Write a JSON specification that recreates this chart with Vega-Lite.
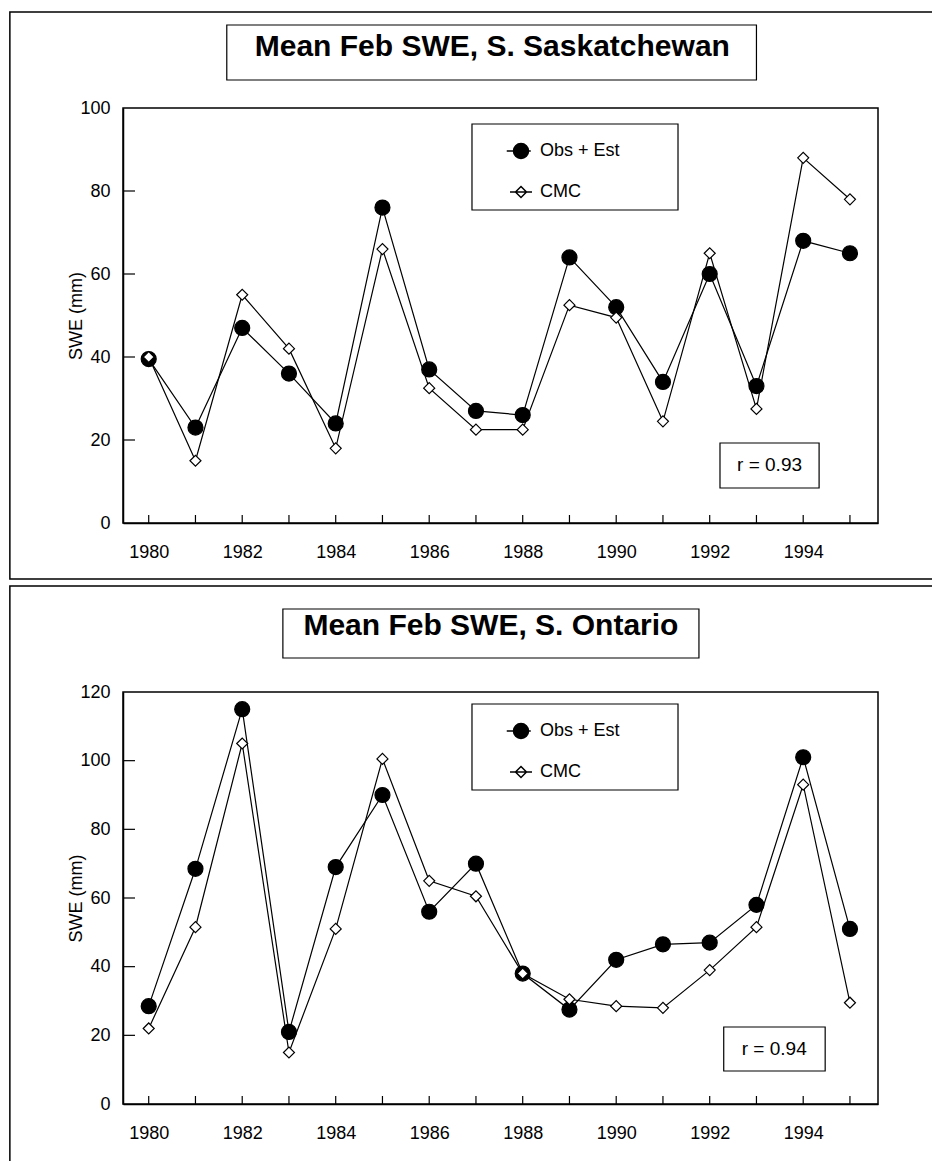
{
  "$schema": "https://vega.github.io/schema/vega-lite/v6.json",
  "background": "white",
  "padding": {"left": 8, "top": 10, "right": 0, "bottom": 0},
  "spacing": 3,
  "resolve": {
    "scale": {"fill": "independent", "size": "independent", "shape": "independent"},
    "legend": {"fill": "independent", "size": "independent", "shape": "independent"}
  },
  "datasets": {
    "sask": [
      {"year": 1980, "series": "Obs + Est", "swe": 39.5}, {"year": 1981, "series": "Obs + Est", "swe": 23}, {"year": 1982, "series": "Obs + Est", "swe": 47}, {"year": 1983, "series": "Obs + Est", "swe": 36}, {"year": 1984, "series": "Obs + Est", "swe": 24}, {"year": 1985, "series": "Obs + Est", "swe": 76}, {"year": 1986, "series": "Obs + Est", "swe": 37}, {"year": 1987, "series": "Obs + Est", "swe": 27}, {"year": 1988, "series": "Obs + Est", "swe": 26}, {"year": 1989, "series": "Obs + Est", "swe": 64}, {"year": 1990, "series": "Obs + Est", "swe": 52}, {"year": 1991, "series": "Obs + Est", "swe": 34}, {"year": 1992, "series": "Obs + Est", "swe": 60}, {"year": 1993, "series": "Obs + Est", "swe": 33}, {"year": 1994, "series": "Obs + Est", "swe": 68}, {"year": 1995, "series": "Obs + Est", "swe": 65},
      {"year": 1980, "series": "CMC", "swe": 40}, {"year": 1981, "series": "CMC", "swe": 15}, {"year": 1982, "series": "CMC", "swe": 55}, {"year": 1983, "series": "CMC", "swe": 42}, {"year": 1984, "series": "CMC", "swe": 18}, {"year": 1985, "series": "CMC", "swe": 66}, {"year": 1986, "series": "CMC", "swe": 32.5}, {"year": 1987, "series": "CMC", "swe": 22.5}, {"year": 1988, "series": "CMC", "swe": 22.5}, {"year": 1989, "series": "CMC", "swe": 52.5}, {"year": 1990, "series": "CMC", "swe": 49.5}, {"year": 1991, "series": "CMC", "swe": 24.5}, {"year": 1992, "series": "CMC", "swe": 65}, {"year": 1993, "series": "CMC", "swe": 27.5}, {"year": 1994, "series": "CMC", "swe": 88}, {"year": 1995, "series": "CMC", "swe": 78}
    ],
    "ont": [
      {"year": 1980, "series": "Obs + Est", "swe": 28.5}, {"year": 1981, "series": "Obs + Est", "swe": 68.5}, {"year": 1982, "series": "Obs + Est", "swe": 115}, {"year": 1983, "series": "Obs + Est", "swe": 21}, {"year": 1984, "series": "Obs + Est", "swe": 69}, {"year": 1985, "series": "Obs + Est", "swe": 90}, {"year": 1986, "series": "Obs + Est", "swe": 56}, {"year": 1987, "series": "Obs + Est", "swe": 70}, {"year": 1988, "series": "Obs + Est", "swe": 38}, {"year": 1989, "series": "Obs + Est", "swe": 27.5}, {"year": 1990, "series": "Obs + Est", "swe": 42}, {"year": 1991, "series": "Obs + Est", "swe": 46.5}, {"year": 1992, "series": "Obs + Est", "swe": 47}, {"year": 1993, "series": "Obs + Est", "swe": 58}, {"year": 1994, "series": "Obs + Est", "swe": 101}, {"year": 1995, "series": "Obs + Est", "swe": 51},
      {"year": 1980, "series": "CMC", "swe": 22}, {"year": 1981, "series": "CMC", "swe": 51.5}, {"year": 1982, "series": "CMC", "swe": 105}, {"year": 1983, "series": "CMC", "swe": 15}, {"year": 1984, "series": "CMC", "swe": 51}, {"year": 1985, "series": "CMC", "swe": 100.5}, {"year": 1986, "series": "CMC", "swe": 65}, {"year": 1987, "series": "CMC", "swe": 60.5}, {"year": 1988, "series": "CMC", "swe": 38}, {"year": 1989, "series": "CMC", "swe": 30.5}, {"year": 1990, "series": "CMC", "swe": 28.5}, {"year": 1991, "series": "CMC", "swe": 28}, {"year": 1992, "series": "CMC", "swe": 39}, {"year": 1993, "series": "CMC", "swe": 51.5}, {"year": 1994, "series": "CMC", "swe": 93}, {"year": 1995, "series": "CMC", "swe": 29.5}
    ],
    "yearTicks": [{"year": 1980}, {"year": 1981}, {"year": 1982}, {"year": 1983}, {"year": 1984}, {"year": 1985}, {"year": 1986}, {"year": 1987}, {"year": 1988}, {"year": 1989}, {"year": 1990}, {"year": 1991}, {"year": 1992}, {"year": 1993}, {"year": 1994}, {"year": 1995}],
    "sweTicksTop": [{"v": 20}, {"v": 40}, {"v": 60}, {"v": 80}],
    "sweTicksBottom": [{"v": 20}, {"v": 40}, {"v": 60}, {"v": 80}, {"v": 100}]
  },
  "config": {
    "font": "Liberation Sans",
    "view": {"stroke": "black", "strokeWidth": 1.5},
    "axis": {
      "domainColor": "black", "domainWidth": 1.5, "ticks": false,
      "labelColor": "black", "labelFontSize": 18, "labelFont": "Liberation Sans",
      "titleColor": "black", "titleFont": "Liberation Sans", "titleFontSize": 18, "titleFontWeight": "normal",
      "grid": false, "labelOverlap": false, "labelFlush": false
    },
    "legend": {
      "labelFontSize": 18, "labelFont": "Liberation Sans", "labelColor": "black",
      "rowPadding": 21, "padding": 0, "labelOffset": 10
    }
  },
  "vconcat": [
    {
      "width": 755, "height": 415,
      "layer": [
        {
          "data": {"values": [{"k": 1}]},
          "mark": {"type": "rect", "fill": null, "stroke": "black", "strokeWidth": 1.5, "clip": false},
          "encoding": {
            "x": {"datum": 1977.03, "type": "quantitative"}, "x2": {"datum": 1997.5},
            "y": {"datum": 123.13, "type": "quantitative"}, "y2": {"datum": -13.49}
          }
        },
        {
          "data": {"values": [{"k": 1}]},
          "mark": {"type": "rect", "fill": null, "stroke": "black", "strokeWidth": 1.2, "clip": false},
          "encoding": {
            "x": {"datum": 1981.67, "type": "quantitative"}, "x2": {"datum": 1993.0},
            "y": {"datum": 120.0, "type": "quantitative"}, "y2": {"datum": 106.75}
          }
        },
        {
          "data": {"values": [{"label": "Mean Feb SWE, S. Saskatchewan"}]},
          "mark": {"type": "text", "font": "Liberation Sans", "fontWeight": "bold", "fontSize": 30, "align": "center", "baseline": "alphabetic", "color": "black", "clip": false},
          "encoding": {
            "x": {"datum": 1987.35, "type": "quantitative"},
            "y": {"datum": 112.5, "type": "quantitative"},
            "text": {"field": "label"}
          }
        },
        {
          "data": {"values": [{"k": 1}]},
          "mark": {"type": "rect", "fill": null, "stroke": "black", "strokeWidth": 1.2, "clip": false},
          "encoding": {
            "x": {"datum": 1986.915, "type": "quantitative"}, "x2": {"datum": 1991.322},
            "y": {"datum": 96.14, "type": "quantitative"}, "y2": {"datum": 75.42}
          }
        },
        {
          "data": {"values": [{"k": 1}]},
          "mark": {"type": "rect", "fill": null, "stroke": "black", "strokeWidth": 1.2, "clip": false},
          "encoding": {
            "x": {"datum": 1992.22, "type": "quantitative"}, "x2": {"datum": 1994.34},
            "y": {"datum": 19.28, "type": "quantitative"}, "y2": {"datum": 8.43}
          }
        },
        {
          "data": {"values": [{"label": "r = 0.93"}]},
          "mark": {"type": "text", "fontSize": 19, "align": "center", "baseline": "middle", "color": "black", "clip": false},
          "encoding": {
            "x": {"datum": 1993.28, "type": "quantitative"},
            "y": {"datum": 13.86, "type": "quantitative"},
            "text": {"field": "label"}
          }
        },
        {
          "data": {"name": "yearTicks"},
          "mark": {"type": "rule", "color": "black", "strokeWidth": 1.2},
          "encoding": {
            "x": {"field": "year", "type": "quantitative"},
            "y": {"datum": 0, "type": "quantitative"}, "y2": {"datum": 1.93}
          }
        },
        {
          "data": {"name": "sweTicksTop"},
          "mark": {"type": "rule", "color": "black", "strokeWidth": 1.2},
          "encoding": {
            "x": {"datum": 1979.45, "type": "quantitative"}, "x2": {"datum": 1979.707},
            "y": {"field": "v", "type": "quantitative"}
          }
        },
        {
          "data": {"name": "sask"},
          "mark": {"type": "line", "color": "black", "strokeWidth": 1.2, "clip": false},
          "encoding": {
            "x": {"field": "year", "type": "quantitative", "scale": {"domain": [1979.45, 1995.6], "nice": false, "zero": false},
              "axis": {"title": null, "values": [1980,1982,1984,1986,1988,1990,1992,1994], "format": "d", "labelPadding": 20}},
            "y": {"field": "swe", "type": "quantitative", "scale": {"domain": [0, 100], "nice": false},
              "axis": {"title": "SWE (mm)", "values": [0,20,40,60,80,100], "labelPadding": 13, "titlePadding": -6}},
            "detail": {"field": "series"}
          }
        },
        {
          "data": {"name": "sask"},
          "transform": [{"filter": "datum.series === 'Obs + Est'"}],
          "mark": {"type": "point", "shape": "circle", "filled": true, "stroke": "black", "strokeWidth": 1.2, "opacity": 1, "clip": false},
          "encoding": {
            "x": {"field": "year", "type": "quantitative"},
            "y": {"field": "swe", "type": "quantitative"},
            "fill": {"field": "series", "type": "nominal", "scale": {"domain": ["Obs + Est", "CMC"], "range": ["black", "white"]},
              "legend": {"orient": "none", "legendX": 389, "legendY": 34, "title": null,
                "encode": {"symbols": {"update": {"stroke": {"value": "black"}, "strokeWidth": {"value": 1.2}}}, "labels": {"update": {"dy": {"value": -5}}}}}},
            "size": {"field": "series", "type": "nominal", "scale": {"domain": ["Obs + Est", "CMC"], "range": [225, 121]},
              "legend": {"orient": "none", "legendX": 389, "legendY": 34, "title": null,
                "encode": {"symbols": {"update": {"stroke": {"value": "black"}, "strokeWidth": {"value": 1.2}}}, "labels": {"update": {"dy": {"value": -5}}}}}}
          }
        },
        {
          "data": {"name": "sask"},
          "transform": [{"filter": "datum.series === 'CMC'"}],
          "mark": {"type": "point", "shape": "diamond", "filled": true, "stroke": "black", "strokeWidth": 1.2, "opacity": 1, "clip": false},
          "encoding": {
            "x": {"field": "year", "type": "quantitative"},
            "y": {"field": "swe", "type": "quantitative"},
            "fill": {"field": "series", "type": "nominal"},
            "size": {"field": "series", "type": "nominal"}
          }
        },
        {
          "data": {"name": "sask"},
          "transform": [{"filter": "false"}],
          "mark": {"type": "point", "filled": true, "stroke": "black", "strokeWidth": 1.2, "opacity": 1, "clip": false},
          "encoding": {
            "x": {"field": "year", "type": "quantitative"},
            "y": {"field": "swe", "type": "quantitative"},
            "fill": {"field": "series", "type": "nominal"},
            "size": {"field": "series", "type": "nominal"},
            "shape": {"field": "series", "type": "nominal",
              "scale": {"domain": ["Obs + Est", "CMC"], "range": ["M-1,0A1,1,0,1,1,1,0A1,1,0,1,1,-1,0Z M-1.9,0L-1,0 M1,0L1.3,0", "M0,-1L1,0L0,1L-1,0Z M-2,0L2,0"]},
              "legend": {"orient": "none", "legendX": 389, "legendY": 34, "title": null,
                "encode": {"symbols": {"update": {"stroke": {"value": "black"}, "strokeWidth": {"value": 1.2}}}, "labels": {"update": {"dy": {"value": -5}}}}}}
          }
        }
      ]
    },
    {
      "width": 755, "height": 412,
      "layer": [
        {
          "data": {"values": [{"k": 1}]},
          "mark": {"type": "rect", "fill": null, "stroke": "black", "strokeWidth": 1.5, "clip": false},
          "encoding": {
            "x": {"datum": 1977.03, "type": "quantitative"}, "x2": {"datum": 1997.5},
            "y": {"datum": 150.87, "type": "quantitative"}, "y2": {"datum": -20.7}
          }
        },
        {
          "data": {"values": [{"k": 1}]},
          "mark": {"type": "rect", "fill": null, "stroke": "black", "strokeWidth": 1.2, "clip": false},
          "encoding": {
            "x": {"datum": 1982.87, "type": "quantitative"}, "x2": {"datum": 1991.77},
            "y": {"datum": 144.17, "type": "quantitative"}, "y2": {"datum": 129.9}
          }
        },
        {
          "data": {"values": [{"label": "Mean Feb SWE, S. Ontario"}]},
          "mark": {"type": "text", "font": "Liberation Sans", "fontWeight": "bold", "fontSize": 30, "align": "center", "baseline": "alphabetic", "color": "black", "clip": false},
          "encoding": {
            "x": {"datum": 1987.32, "type": "quantitative"},
            "y": {"datum": 136.6, "type": "quantitative"},
            "text": {"field": "label"}
          }
        },
        {
          "data": {"values": [{"k": 1}]},
          "mark": {"type": "rect", "fill": null, "stroke": "black", "strokeWidth": 1.2, "clip": false},
          "encoding": {
            "x": {"datum": 1986.915, "type": "quantitative"}, "x2": {"datum": 1991.322},
            "y": {"datum": 116.5, "type": "quantitative"}, "y2": {"datum": 91.46}
          }
        },
        {
          "data": {"values": [{"k": 1}]},
          "mark": {"type": "rect", "fill": null, "stroke": "black", "strokeWidth": 1.2, "clip": false},
          "encoding": {
            "x": {"datum": 1992.30, "type": "quantitative"}, "x2": {"datum": 1994.47},
            "y": {"datum": 22.43, "type": "quantitative"}, "y2": {"datum": 9.61}
          }
        },
        {
          "data": {"values": [{"label": "r = 0.94"}]},
          "mark": {"type": "text", "fontSize": 19, "align": "center", "baseline": "middle", "color": "black", "clip": false},
          "encoding": {
            "x": {"datum": 1993.38, "type": "quantitative"},
            "y": {"datum": 16.02, "type": "quantitative"},
            "text": {"field": "label"}
          }
        },
        {
          "data": {"name": "yearTicks"},
          "mark": {"type": "rule", "color": "black", "strokeWidth": 1.2},
          "encoding": {
            "x": {"field": "year", "type": "quantitative"},
            "y": {"datum": 0, "type": "quantitative"}, "y2": {"datum": 2.33}
          }
        },
        {
          "data": {"name": "sweTicksBottom"},
          "mark": {"type": "rule", "color": "black", "strokeWidth": 1.2},
          "encoding": {
            "x": {"datum": 1979.45, "type": "quantitative"}, "x2": {"datum": 1979.707},
            "y": {"field": "v", "type": "quantitative"}
          }
        },
        {
          "data": {"name": "ont"},
          "mark": {"type": "line", "color": "black", "strokeWidth": 1.2, "clip": false},
          "encoding": {
            "x": {"field": "year", "type": "quantitative", "scale": {"domain": [1979.45, 1995.6], "nice": false, "zero": false},
              "axis": {"title": null, "values": [1980,1982,1984,1986,1988,1990,1992,1994], "format": "d", "labelPadding": 20}},
            "y": {"field": "swe", "type": "quantitative", "scale": {"domain": [0, 120], "nice": false},
              "axis": {"title": "SWE (mm)", "values": [0,20,40,60,80,100,120], "labelPadding": 13, "titlePadding": -6}},
            "detail": {"field": "series"}
          }
        },
        {
          "data": {"name": "ont"},
          "transform": [{"filter": "datum.series === 'Obs + Est'"}],
          "mark": {"type": "point", "shape": "circle", "filled": true, "stroke": "black", "strokeWidth": 1.2, "opacity": 1, "clip": false},
          "encoding": {
            "x": {"field": "year", "type": "quantitative"},
            "y": {"field": "swe", "type": "quantitative"},
            "fill": {"field": "series", "type": "nominal", "scale": {"domain": ["Obs + Est", "CMC"], "range": ["black", "white"]},
              "legend": {"orient": "none", "legendX": 389, "legendY": 30, "title": null,
                "encode": {"symbols": {"update": {"stroke": {"value": "black"}, "strokeWidth": {"value": 1.2}}}, "labels": {"update": {"dy": {"value": -5}}}}}},
            "size": {"field": "series", "type": "nominal", "scale": {"domain": ["Obs + Est", "CMC"], "range": [225, 121]},
              "legend": {"orient": "none", "legendX": 389, "legendY": 30, "title": null,
                "encode": {"symbols": {"update": {"stroke": {"value": "black"}, "strokeWidth": {"value": 1.2}}}, "labels": {"update": {"dy": {"value": -5}}}}}}
          }
        },
        {
          "data": {"name": "ont"},
          "transform": [{"filter": "datum.series === 'CMC'"}],
          "mark": {"type": "point", "shape": "diamond", "filled": true, "stroke": "black", "strokeWidth": 1.2, "opacity": 1, "clip": false},
          "encoding": {
            "x": {"field": "year", "type": "quantitative"},
            "y": {"field": "swe", "type": "quantitative"},
            "fill": {"field": "series", "type": "nominal"},
            "size": {"field": "series", "type": "nominal"}
          }
        },
        {
          "data": {"name": "ont"},
          "transform": [{"filter": "false"}],
          "mark": {"type": "point", "filled": true, "stroke": "black", "strokeWidth": 1.2, "opacity": 1, "clip": false},
          "encoding": {
            "x": {"field": "year", "type": "quantitative"},
            "y": {"field": "swe", "type": "quantitative"},
            "fill": {"field": "series", "type": "nominal"},
            "size": {"field": "series", "type": "nominal"},
            "shape": {"field": "series", "type": "nominal",
              "scale": {"domain": ["Obs + Est", "CMC"], "range": ["M-1,0A1,1,0,1,1,1,0A1,1,0,1,1,-1,0Z M-1.9,0L-1,0 M1,0L1.3,0", "M0,-1L1,0L0,1L-1,0Z M-2,0L2,0"]},
              "legend": {"orient": "none", "legendX": 389, "legendY": 30, "title": null,
                "encode": {"symbols": {"update": {"stroke": {"value": "black"}, "strokeWidth": {"value": 1.2}}}, "labels": {"update": {"dy": {"value": -5}}}}}}
          }
        }
      ]
    }
  ]
}
